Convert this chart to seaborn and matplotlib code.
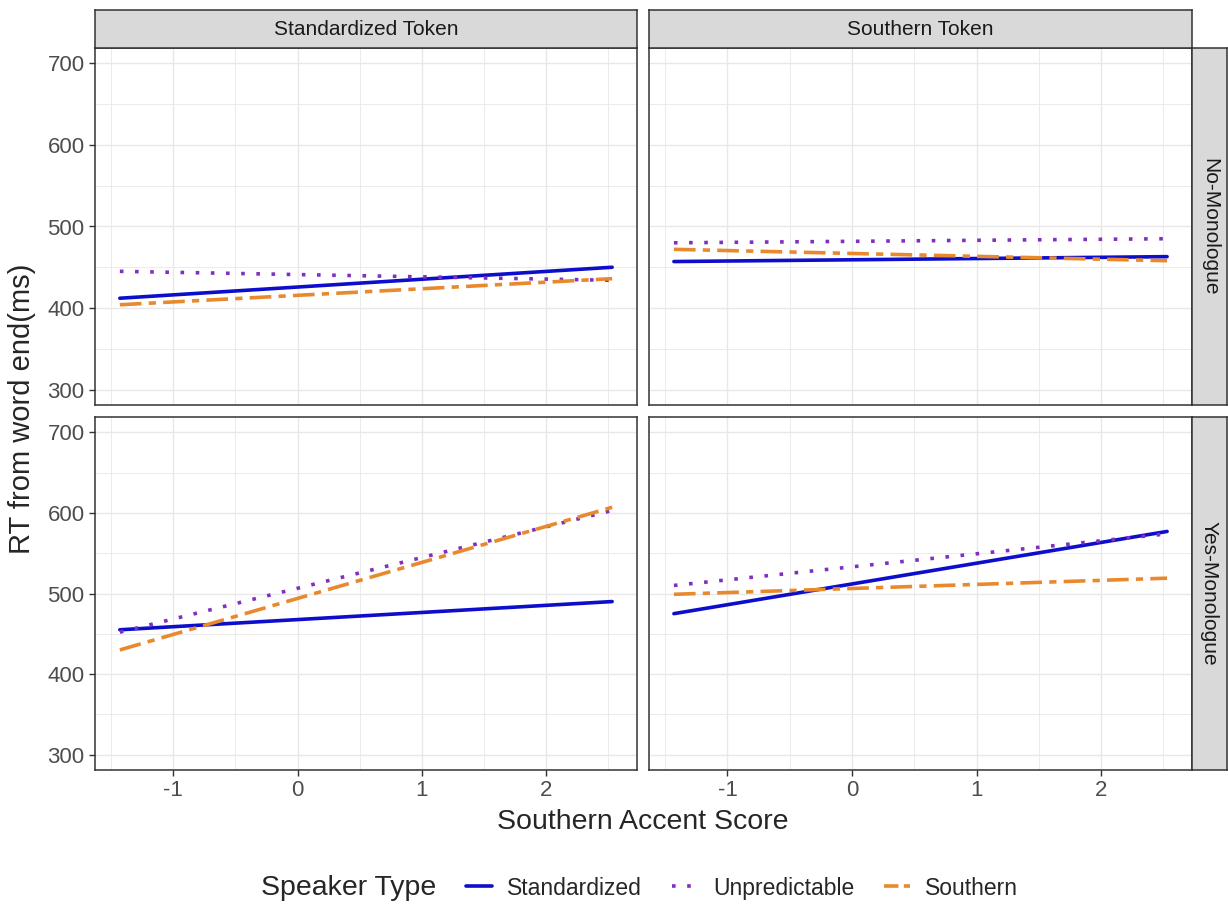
import numpy as np
import pandas as pd
import matplotlib
matplotlib.use("Agg")
import matplotlib.pyplot as plt
from matplotlib.lines import Line2D
import seaborn as sns

# Facet levels
tokens = ["Standardized Token", "Southern Token"]
monologue = ["No-Monologue", "Yes-Monologue"]
speaker_types = ["Standardized", "Unpredictable", "Southern"]

# Range of the accent score covered by the fitted lines
accent_range = [-1.43, 2.53]

# Fitted RT at the low / high end of the accent range
# panel order: (No, Std token), (No, South token), (Yes, Std token), (Yes, South token)
rt_standardized_low = [412, 457, 455, 475]
rt_standardized_high = [450, 463, 490, 577]
rt_unpredictable_low = [445, 480, 452, 510]
rt_unpredictable_high = [434, 485, 603, 574]
rt_southern_low = [404, 472, 430, 499]
rt_southern_high = [436, 458, 607, 519]

x_ticks = [-1, 0, 1, 2]
y_ticks = [300, 400, 500, 600, 700]

colors = {"Standardized": "#0D0DCC", "Unpredictable": "#8030C0", "Southern": "#E8892E"}
dashes = {"Standardized": "", "Unpredictable": (1, 3.2), "Southern": (6, 2, 2, 2)}

# build the long table
rows = []
panels = [(m, t) for m in monologue for t in tokens]
lows = {"Standardized": rt_standardized_low, "Unpredictable": rt_unpredictable_low,
        "Southern": rt_southern_low}
highs = {"Standardized": rt_standardized_high, "Unpredictable": rt_unpredictable_high,
         "Southern": rt_southern_high}
for i, (m, t) in enumerate(panels):
    for sp in speaker_types:
        rows.append((m, t, sp, accent_range[0], lows[sp][i]))
        rows.append((m, t, sp, accent_range[1], highs[sp][i]))
df = pd.DataFrame(rows, columns=["monologue", "token", "speaker", "accent", "rt"])

sns.set_style("white")
plt.rcParams["font.family"] = ["Liberation Sans", "DejaVu Sans"]

W, H = 1228, 905
fig = plt.figure(figsize=(W / 100, H / 100), dpi=100)


def box(x0, y0, x1, y1):
    return [x0 / W, 1 - y1 / H, (x1 - x0) / W, (y1 - y0) / H]


col_px = [(95, 637), (649, 1192)]
row_px = [(48, 405), (417, 770)]
border = "#333333"
grid_col = "#E8E8E8"

for r, m in enumerate(monologue):
    for c, t in enumerate(tokens):
        ax = fig.add_axes(box(col_px[c][0], row_px[r][0], col_px[c][1], row_px[r][1]))
        sub = df[(df.monologue == m) & (df.token == t)]
        sns.lineplot(data=sub, x="accent", y="rt", hue="speaker", style="speaker",
                     hue_order=speaker_types, style_order=speaker_types,
                     palette=colors, dashes=dashes, linewidth=2.6,
                     legend=False, ax=ax)
        ax.set_xlim(-1.63, 2.73)
        ax.set_ylim(281, 719)
        ax.set_xticks(x_ticks)
        ax.set_yticks(y_ticks)
        ax.set_xticks([-1.5, -0.5, 0.5, 1.5, 2.5], minor=True)
        ax.set_yticks([350, 450, 550, 650], minor=True)
        ax.grid(True, which="major", color=grid_col, linewidth=1.0)
        ax.grid(True, which="minor", color=grid_col, linewidth=0.6)
        ax.set_axisbelow(True)
        ax.set_xlabel("")
        ax.set_ylabel("")
        for s in ax.spines.values():
            s.set_color(border)
            s.set_linewidth(1.1)
        ax.tick_params(which="major", length=4, width=1, color=border,
                       labelsize=16, labelcolor="#4D4D4D")
        ax.tick_params(which="minor", length=0)
        ax.tick_params(axis="x", bottom=(r == 1), labelbottom=(r == 1))
        ax.tick_params(axis="y", left=(c == 0), labelleft=(c == 0))
        ax.set_xticklabels([str(v) for v in x_ticks])

# column strips
for c, t in enumerate(tokens):
    sax = fig.add_axes(box(col_px[c][0], 10, col_px[c][1], 48))
    sax.set_facecolor("#D9D9D9")
    sax.set_xticks([])
    sax.set_yticks([])
    for s in sax.spines.values():
        s.set_color(border)
        s.set_linewidth(1.1)
    sax.text(0.5, 0.5, t, ha="center", va="center", fontsize=15,
             color="#1A1A1A", transform=sax.transAxes)

# row strips
for r, m in enumerate(monologue):
    sax = fig.add_axes(box(1192, row_px[r][0], 1227, row_px[r][1]))
    sax.set_facecolor("#D9D9D9")
    sax.set_xticks([])
    sax.set_yticks([])
    for s in sax.spines.values():
        s.set_color(border)
        s.set_linewidth(1.1)
    sax.text(0.5, 0.5, m, ha="center", va="center", fontsize=15, rotation=-90,
             color="#1A1A1A", transform=sax.transAxes)

# axis titles
fig.text(22 / W, 1 - 409 / H, "RT from word end(ms)", rotation=90,
         ha="center", va="center", fontsize=21)
fig.text(643 / W, 1 - 822 / H, "Southern Accent Score",
         ha="center", va="center", fontsize=20.5)

# legend
handles = [Line2D([0], [0], color=colors["Standardized"], linewidth=2.6),
           Line2D([0], [0], color=colors["Unpredictable"], linewidth=2.6,
                  dashes=dashes["Unpredictable"]),
           Line2D([0], [0], color=colors["Southern"], linewidth=2.6,
                  dashes=(4, 1.5))]
fig.legend(handles, speaker_types, loc="center", bbox_to_anchor=(742 / W, 1 - 888 / H),
           ncol=3, frameon=False, fontsize=16.5, handlelength=1.15,
           handletextpad=0.65, columnspacing=1.3)
fig.text(436 / W, 1 - 888 / H, "Speaker Type", ha="right", va="center", fontsize=20.5)

fig.savefig("out.png", dpi=100)
